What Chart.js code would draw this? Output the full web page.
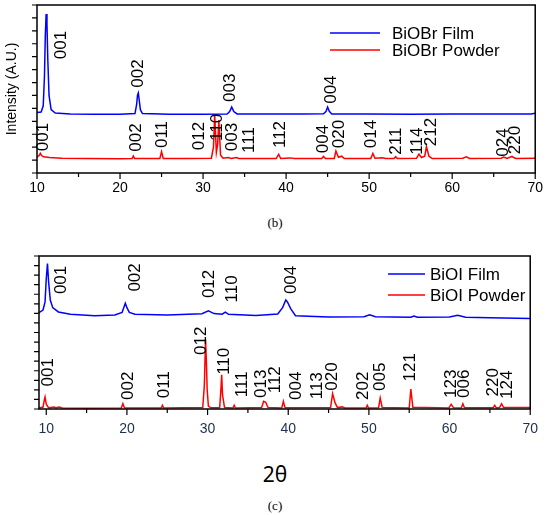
<!DOCTYPE html>
<html>
<head>
<meta charset="utf-8">
<script src="https://cdn.jsdelivr.net/npm/chart.js@4.4.1/dist/chart.umd.min.js"></script>
<style>
  body { margin: 0; width: 550px; height: 515px; background: #fff; position: relative; overflow: hidden; }
  canvas { position: absolute; left: 0; }
  #c1 { top: 0; }
  #c2 { top: 240px; }
  .cap { position: absolute; left: 0; width: 550px; text-align: center; color: #000; }
</style>
</head>
<body>
<canvas id="c1" width="550" height="200"></canvas>
<div class="cap" style="top:215px; font: 13px 'Liberation Serif', serif;">(b)</div>
<canvas id="c2" width="550" height="200"></canvas>
<div class="cap" style="top:460px; font: 21px 'Noto Sans', sans-serif;">2θ</div>
<div class="cap" style="top:498px; font: 13px 'Liberation Serif', serif;">(c)</div>
<script>
// x axis ticks (2θ), labels only on the multiples of ten
const xTicks = [10, 15, 20, 25, 30, 35, 40, 45, 50, 55, 60, 65, 70];
const xLabels = [10, 20, 30, 40, 50, 60, 70];

// (b) BiOBr film
const brFilm2t = [10.0, 10.5, 10.75, 10.9, 11.0, 11.1, 11.2, 11.3, 11.45, 11.7, 12.2, 14, 17, 20, 21.8, 22.0, 22.1, 22.2, 22.3, 22.45, 22.7, 26, 30, 32.9, 33.2, 33.45, 33.7, 34.1, 38, 42, 44.5, 44.8, 45.0, 45.2, 45.5, 50, 55, 60, 65, 69.5, 70];
const brFilmI  = [4.68, 4.72, 5.2, 7.5, 10.6, 12.3, 11.5, 8.8, 6.0, 4.9, 4.64, 4.57, 4.55, 4.54, 4.6, 5.3, 6.0, 6.19, 5.7, 4.9, 4.6, 4.55, 4.55, 4.57, 4.75, 5.1, 4.75, 4.57, 4.56, 4.56, 4.58, 4.75, 5.1, 4.78, 4.57, 4.56, 4.55, 4.56, 4.56, 4.57, 4.62];

// (b) BiOBr powder
const brPow2t = [10.0, 10.25, 10.4, 10.55, 10.8, 11.5, 13, 16, 20, 21.45, 21.6, 21.75, 24.8, 25.0, 25.2, 28, 31.0, 31.25, 31.4, 31.6, 31.75, 31.9, 32.1, 32.4, 33.0, 33.4, 34.0, 34.3, 38.8, 39.1, 39.35, 40.5, 41, 44.3, 44.5, 44.75, 45.8, 46.0, 46.3, 46.7, 47.0, 50.2, 50.45, 50.7, 51.6, 52, 53.0, 53.2, 53.4, 55.7, 56.0, 56.3, 56.7, 56.9, 57.2, 57.6, 61.3, 61.7, 62.1, 65.9, 66.2, 66.6, 67.2, 67.4, 67.7, 70];
const brPowI  = [1.22, 1.35, 1.52, 1.35, 1.25, 1.2, 1.15, 1.12, 1.11, 1.12, 1.32, 1.12, 1.12, 1.65, 1.12, 1.12, 1.15, 2.0, 4.5, 1.6, 2.2, 4.1, 1.4, 1.15, 1.2, 1.12, 1.2, 1.12, 1.12, 1.45, 1.12, 1.17, 1.12, 1.12, 1.28, 1.12, 1.12, 1.7, 1.22, 1.3, 1.12, 1.12, 1.52, 1.14, 1.18, 1.12, 1.12, 1.26, 1.12, 1.14, 1.46, 1.2, 1.3, 2.05, 1.3, 1.12, 1.14, 1.25, 1.13, 1.14, 1.24, 1.13, 1.28, 1.2, 1.12, 1.15];

// (b) peak indices: name, 2θ, height of label centre
const brFilmHkl = ['001', '002', '003', '004'];
const brFilmHklAt = [12.9, 22.2, 33.3, 45.45];
const brFilmHklY = [9.9, 7.7, 6.6, 6.45];
const brPowHkl = ['001', '002', '011', '012', '110', '003', '111', '112', '004', '020', '014', '211', '114', '212', '024', '220'];
const brPowHklAt = [10.72, 21.98, 25.09, 29.6, 31.68, 33.47, 35.56, 39.27, 44.46, 46.46, 50.24, 53.23, 55.83, 57.43, 66.21, 67.6];
const brPowHklY = [2.78, 2.75, 2.98, 2.86, 3.53, 2.78, 2.55, 2.98, 2.63, 3.02, 3.02, 2.47, 2.47, 3.17, 2.36, 2.55];

// (c) BiOI film
const biFilm2t = [9.1, 9.6, 9.85, 10.0, 10.15, 10.3, 10.5, 10.8, 11.5, 13, 16, 18.5, 19.4, 19.65, 19.8, 20.0, 20.3, 21, 25, 29.3, 30.1, 30.8, 31.8, 32.2, 32.6, 36, 38.7, 39.3, 39.7, 39.9, 40.3, 40.9, 45, 49.4, 50.1, 50.8, 55.2, 55.6, 56.0, 60.0, 61.0, 62.0, 65, 70];
const biFilmI  = [10.08, 10.35, 11.2, 13.6, 15.2, 13.2, 11.4, 10.6, 10.15, 9.9, 9.74, 9.84, 10.1, 10.7, 11.06, 10.6, 10.1, 9.92, 9.84, 9.97, 10.26, 9.98, 9.92, 10.13, 9.9, 9.79, 9.93, 10.6, 11.4, 11.2, 10.5, 9.75, 9.63, 9.66, 9.84, 9.64, 9.6, 9.71, 9.6, 9.62, 9.79, 9.6, 9.53, 9.46];

// (c) BiOI powder
const biPow2t = [9.1, 9.6, 9.75, 9.85, 10.0, 10.3, 11.0, 11.2, 11.6, 12.0, 15, 19.3, 19.5, 19.7, 24.25, 24.4, 24.55, 29.4, 29.6, 29.75, 29.85, 29.95, 30.1, 30.4, 31.5, 31.65, 31.75, 31.85, 32.1, 33.15, 33.3, 33.45, 36.7, 36.95, 37.2, 37.5, 39.2, 39.4, 39.6, 45.25, 45.5, 45.8, 46.1, 46.7, 47, 49.65, 49.8, 49.95, 51.2, 51.4, 51.65, 55.0, 55.2, 55.45, 59.9, 60.2, 60.5, 61.45, 61.65, 61.85, 65.4, 65.6, 65.8, 66.2, 66.45, 66.7, 70];
const biPowI  = [0.1, 0.2, 0.9, 1.25, 0.5, 0.12, 0.2, 0.12, 0.2, 0.1, 0.08, 0.1, 0.55, 0.1, 0.1, 0.38, 0.1, 0.15, 2.5, 7.3, 5.0, 2.0, 0.3, 0.12, 0.12, 2.0, 3.58, 1.5, 0.15, 0.1, 0.38, 0.1, 0.15, 0.8, 0.7, 0.15, 0.1, 0.8, 0.12, 0.15, 1.6, 0.66, 0.15, 0.22, 0.1, 0.1, 0.38, 0.1, 0.12, 1.15, 0.15, 0.1, 2.09, 0.18, 0.1, 0.48, 0.12, 0.1, 0.55, 0.12, 0.12, 0.38, 0.12, 0.15, 0.55, 0.15, 0.15];

const biFilmHkl = ['001', '002', '012', '110', '004'];
const biFilmHklAt = [11.84, 21.02, 30.2, 33.05, 40.39];
const biFilmHklY = [13.5, 13.76, 13.08, 12.56, 13.5];
const biPowHkl = ['001', '002', '011', '012', '110', '111', '013', '112', '004', '113', '020', '202', '005', '121', '123', '006', '220', '124'];
const biPowHklAt = [10.2, 20.2, 24.6, 29.17, 32.03, 34.27, 36.72, 38.35, 41.0, 43.66, 45.5, 49.36, 51.4, 55.08, 60.18, 61.81, 65.4, 67.2];
const biPowHklY = [3.84, 2.43, 2.54, 7.13, 4.99, 2.59, 2.64, 3.06, 2.43, 2.43, 3.4, 2.43, 3.37, 4.36, 2.64, 2.64, 2.8, 2.54];

const FONT = '"Liberation Sans", Arial, sans-serif';

const pts = (xs, ys) => xs.map((v, i) => ({ x: v, y: ys[i] }));

// frame, tick marks, peak indices and the legend
const xrdDecor = {
  id: 'xrdDecor',
  afterDatasetsDraw(chart, args, o) {
    const { ctx, chartArea: a, scales: { x, y } } = chart;
    ctx.save();
    ctx.strokeStyle = '#000';
    ctx.lineWidth = 1.5;
    ctx.strokeRect(a.left, a.top, a.right - a.left, a.bottom - a.top);

    ctx.lineWidth = 1.2;
    ctx.beginPath();
    x.ticks.forEach(t => {
      const px = x.getPixelForValue(t.value);
      const len = xLabels.includes(t.value) ? 6 : 4;
      ctx.moveTo(px, a.bottom);
      ctx.lineTo(px, a.bottom + len);
    });
    y.ticks.forEach(t => {
      const py = y.getPixelForValue(t.value);
      ctx.moveTo(a.left, py);
      ctx.lineTo(a.left - 5, py);
    });
    ctx.stroke();

    ctx.fillStyle = '#000';
    ctx.font = '17px ' + FONT;
    ctx.textAlign = 'center';
    ctx.textBaseline = 'middle';
    o.peaks.forEach(p => {
      p.names.forEach((n, i) => {
        ctx.save();
        ctx.translate(x.getPixelForValue(p.at[i]), y.getPixelForValue(p.h[i]));
        ctx.rotate(-Math.PI / 2);
        ctx.fillText(n, 0, 0);
        ctx.restore();
      });
    });

    const L = o.legend;
    ctx.textAlign = 'left';
    chart.data.datasets.forEach((ds, i) => {
      const ly = L.y + i * L.dy;
      ctx.strokeStyle = ds.borderColor;
      ctx.lineWidth = 1.5;
      ctx.beginPath();
      ctx.moveTo(L.x0, ly);
      ctx.lineTo(L.x1, ly);
      ctx.stroke();
      ctx.fillText(ds.label, L.tx, ly + 1);
    });
    ctx.restore();
  }
};

function xrdChart(id, p) {
  const ctx = document.getElementById(id);
  return new Chart(ctx, {
    type: 'line',
    data: {
      datasets: [
        { label: p.labels[0], data: pts(p.film2t, p.filmI), borderColor: '#0000ff', borderWidth: 1.5, pointRadius: 0, tension: 0 },
        { label: p.labels[1], data: pts(p.pow2t, p.powI), borderColor: '#ff0000', borderWidth: 1.5, pointRadius: 0, tension: 0 }
      ]
    },
    options: {
      responsive: false,
      animation: false,
      devicePixelRatio: 1,
      layout: { padding: p.pad },
      plugins: {
        legend: { display: false },
        tooltip: { enabled: false },
        xrdDecor: { peaks: p.peaks, legend: p.legend }
      },
      scales: {
        x: {
          type: 'linear',
          min: p.xMin,
          max: 70,
          afterBuildTicks: s => { s.ticks = xTicks.map(v => ({ value: v })); },
          afterFit: s => { s.height = p.xHeight; },
          grid: { display: false, drawTicks: false },
          border: { display: false },
          ticks: {
            autoSkip: false,
            maxRotation: 0,
            padding: p.xPad,
            color: p.tickColor,
            font: { family: FONT, size: 14 },
            callback: v => xLabels.includes(v) ? String(v) : ''
          }
        },
        y: {
          min: 0,
          max: p.yMax,
          afterFit: s => { s.width = p.yWidth; },
          grid: { display: false, drawTicks: false },
          border: { display: false },
          ticks: { display: false, stepSize: 1 },
          title: {
            display: !!p.yTitle,
            text: p.yTitle,
            color: '#000',
            font: { family: FONT, size: 14 },
            padding: { top: 4, bottom: 0 }
          }
        }
      }
    },
    plugins: [xrdDecor]
  });
}

xrdChart('c1', {
  labels: ['BiOBr Film', 'BiOBr Powder'],
  film2t: brFilm2t, filmI: brFilmI, pow2t: brPow2t, powI: brPowI,
  peaks: [
    { names: brFilmHkl, at: brFilmHklAt, h: brFilmHklY },
    { names: brPowHkl, at: brPowHklAt, h: brPowHklY }
  ],
  legend: { x0: 330, x1: 380, tx: 392, y: 33, dy: 17 },
  pad: { top: 5, right: 12, left: 0, bottom: 0 },
  xMin: 10, yMax: 13, yWidth: 37, xHeight: 27, xPad: 7,
  tickColor: '#000',
  yTitle: 'Intensity (A.U.)'
});

xrdChart('c2', {
  labels: ['BiOI Film', 'BiOI Powder'],
  film2t: biFilm2t, filmI: biFilmI, pow2t: biPow2t, powI: biPowI,
  peaks: [
    { names: biFilmHkl, at: biFilmHklAt, h: biFilmHklY },
    { names: biPowHkl, at: biPowHklAt, h: biPowHklY }
  ],
  legend: { x0: 388, x1: 425, tx: 430, y: 34, dy: 21 },
  pad: { top: 16, right: 14, left: 0, bottom: 0 },
  xMin: 9.1, yMax: 16, yWidth: 39, xHeight: 31, xPad: 12,
  tickColor: '#1f2f4f',
  yTitle: ''
});
</script>
</body>
</html>
